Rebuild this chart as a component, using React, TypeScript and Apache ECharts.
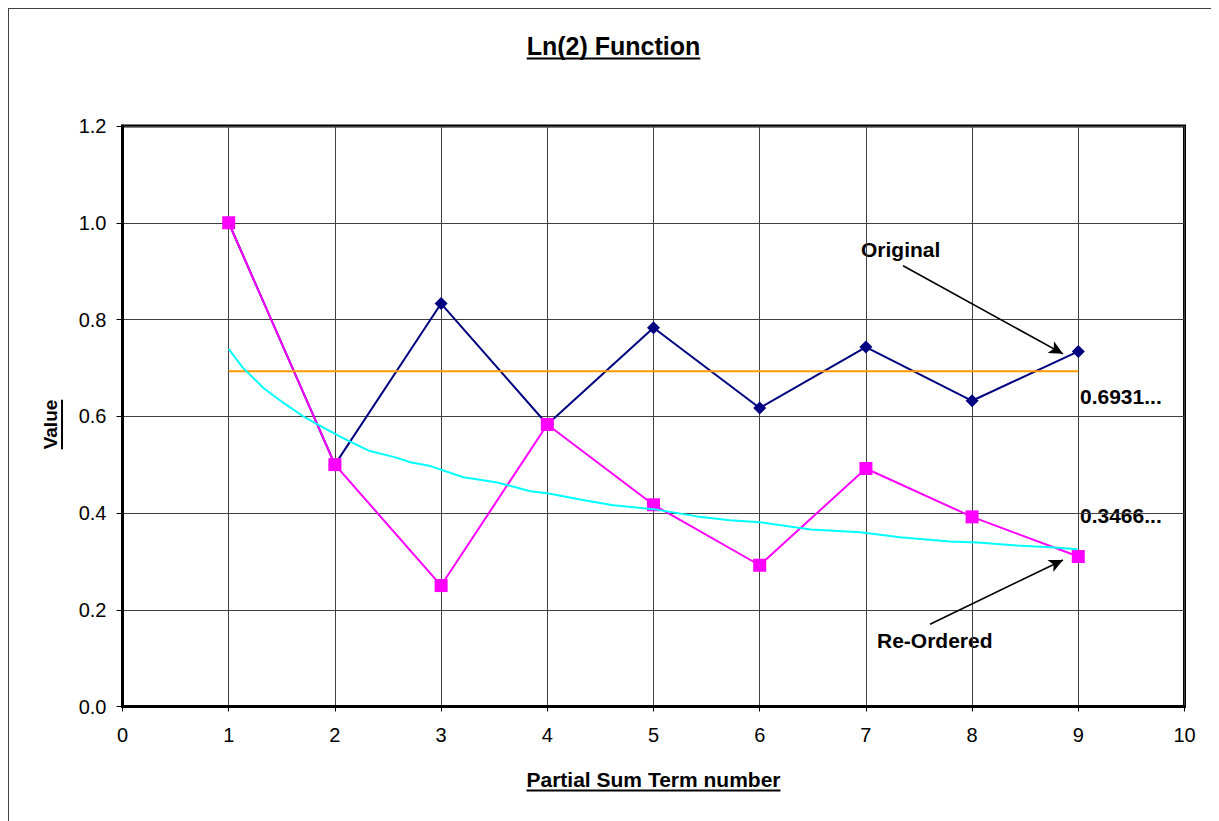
import React, { useEffect, useRef } from "react";
import * as echarts from "echarts";

// ---- data ----
const termNumbers = [1, 2, 3, 4, 5, 6, 7, 8, 9];
const originalSums = [1.0, 0.5, 0.833, 0.583, 0.783, 0.617, 0.743, 0.632, 0.734];
const reorderedSums = [1.0, 0.5, 0.25, 0.583, 0.417, 0.292, 0.492, 0.392, 0.31];
const ln2Value = 0.6931;
const ln2Span = [1, 9];
const halfLn2Curve: [number, number][] = [
  [1.0, 0.739], [1.13, 0.701], [1.33, 0.658], [1.52, 0.627], [1.7, 0.6],
  [1.87, 0.579], [2.1, 0.552], [2.33, 0.528], [2.57, 0.515], [2.71, 0.505],
  [2.9, 0.497], [3.21, 0.474], [3.53, 0.463], [3.84, 0.445], [4.0, 0.441],
  [4.31, 0.428], [4.62, 0.416], [5.0, 0.408], [5.41, 0.393], [5.72, 0.385],
  [6.0, 0.381], [6.48, 0.366], [6.95, 0.36], [7.32, 0.35], [7.79, 0.341],
  [8.05, 0.339], [8.42, 0.333], [8.74, 0.329], [8.99, 0.325],
];
const originalArrow: [number, number][] = [[7.35, 0.911], [8.856, 0.729]];
const reorderedArrow: [number, number][] = [[7.604, 0.17], [8.856, 0.303]];
const xTicks = { min: 0, max: 10, interval: 1 };
const yTicks = { min: 0, max: 1.2, interval: 0.2 };

const FF = '"Liberation Sans", Arial, sans-serif';
const W = 1211;
const H = 813;

function measure(text: string, font: string): number {
  const c = document.createElement("canvas").getContext("2d");
  if (!c) return text.length * 10;
  c.font = font;
  return c.measureText(text).width;
}

export default function App() {
  const ref = useRef<HTMLDivElement>(null);
  useEffect(() => {
    if (!ref.current) return;
    const chart = echarts.init(ref.current, undefined, { renderer: "svg" });

    const gridLeft = 114.5, gridTop = 118, gridW = 1062, gridH = 580.5;
    const titleFont = `bold 25px ${FF}`;
    const xNameFont = `bold 21px ${FF}`;
    const yNameFont = `bold 19px ${FF}`;
    const annFont = `bold 21px ${FF}`;
    const titleText = "Ln(2) Function";
    const xName = "Partial Sum Term number";
    const yName = "Value";
    const tw = measure(titleText, titleFont);
    const xw = measure(xName, xNameFont);
    const yw = measure(yName, yNameFont);
    const cx = W / 2;
    const xNameCx = gridLeft + gridW / 2;
    const yNameCy = 416.5;

    const txt = (text: string, x: number, y: number, font: string, align: string, rotation = 0) => ({
      type: "text",
      x, y, rotation,
      silent: true,
      style: {
        text, font, fill: "#000",
        textAlign: align, textVerticalAlign: "middle",
        align, verticalAlign: "middle",
      },
    });
    const ln = (x1: number, y1: number, x2: number, y2: number, w: number, c = "#000") => ({
      type: "line",
      silent: true,
      shape: { x1, y1, x2, y2 },
      style: { stroke: c, lineWidth: w },
    });

    const arrowStyle = {
      silent: true,
      symbol: ["none", "arrow"],
      symbolSize: [10, 14],
      lineStyle: { color: "#000", width: 1.6, type: "solid" },
      label: { show: false },
      emphasis: { disabled: true },
    };

    chart.setOption({
      animation: false,
      backgroundColor: "#fff",
      title: {
        text: titleText,
        left: "center",
        top: 20,
        textStyle: { fontFamily: FF, fontSize: 25, fontWeight: "bold", color: "#000" },
      },
      grid: {
        left: gridLeft, top: gridTop, width: gridW, height: gridH,
        show: true, borderColor: "#000", borderWidth: 3, backgroundColor: "transparent",
      },
      xAxis: {
        type: "value",
        min: xTicks.min, max: xTicks.max, interval: xTicks.interval,
        axisLine: { show: true, lineStyle: { color: "#000", width: 3 } },
        axisTick: { show: true, length: 5, lineStyle: { color: "#000", width: 1 } },
        axisLabel: { color: "#000", fontFamily: FF, fontSize: 20, margin: 18 },
        splitLine: { show: true, lineStyle: { color: "#404040", width: 1 } },
      },
      yAxis: {
        type: "value",
        min: yTicks.min, max: yTicks.max, interval: yTicks.interval,
        axisLine: { show: true, lineStyle: { color: "#000", width: 3 } },
        axisTick: { show: true, length: 6, lineStyle: { color: "#000", width: 1 } },
        axisLabel: {
          color: "#000", fontFamily: FF, fontSize: 20, margin: 16,
          formatter: (v: number) => v.toFixed(1),
        },
        splitLine: { show: true, lineStyle: { color: "#404040", width: 1 } },
      },
      series: [
        {
          name: "Original",
          type: "line",
          data: termNumbers.map((t, i) => [t, originalSums[i]]),
          symbol: "diamond",
          symbolSize: 13,
          lineStyle: { color: "#000080", width: 2 },
          itemStyle: { color: "#000080" },
          z: 3,
          markLine: { ...arrowStyle, data: [[{ coord: originalArrow[0] }, { coord: originalArrow[1] }]] },
        },
        {
          name: "Re-Ordered",
          type: "line",
          data: termNumbers.map((t, i) => [t, reorderedSums[i]]),
          symbol: "rect",
          symbolSize: 13,
          lineStyle: { color: "#FF00FF", width: 2 },
          itemStyle: { color: "#FF00FF" },
          z: 4,
          markLine: { ...arrowStyle, data: [[{ coord: reorderedArrow[0] }, { coord: reorderedArrow[1] }]] },
        },
        {
          name: "ln 2",
          type: "line",
          data: ln2Span.map((x) => [x, ln2Value]),
          symbol: "none",
          lineStyle: { color: "#FF9900", width: 2 },
          z: 5,
        },
        {
          name: "ln 2 / 2",
          type: "line",
          data: halfLn2Curve,
          symbol: "none",
          lineStyle: { color: "#00FFFF", width: 2 },
          z: 5,
        },
      ],
      graphic: [
        ln(0.5, 0, 0.5, H, 1, "#404040"),
        ln(0, 0.5, W, 0.5, 1, "#404040"),
        ln(cx - tw / 2, 50.5, cx + tw / 2, 50.5, 2),
        txt(xName, xNameCx, 771.5, xNameFont, "center"),
        ln(xNameCx - xw / 2, 782.5, xNameCx + xw / 2, 782.5, 2),
        txt(yName, 42, yNameCy, yNameFont, "center", Math.PI / 2),
        ln(54, yNameCy - yw / 2, 54, yNameCy + yw / 2, 2),
        txt("Original", 853, 241.5, annFont, "left"),
        txt("Re-Ordered", 869, 632, annFont, "left"),
        txt("0.6931...", 1072, 388.5, annFont, "left"),
        txt("0.3466...", 1072, 507.5, annFont, "left"),
      ],
    });
    return () => chart.dispose();
  }, []);
  return <div ref={ref} style={{ width: W, height: H }} />;
}
